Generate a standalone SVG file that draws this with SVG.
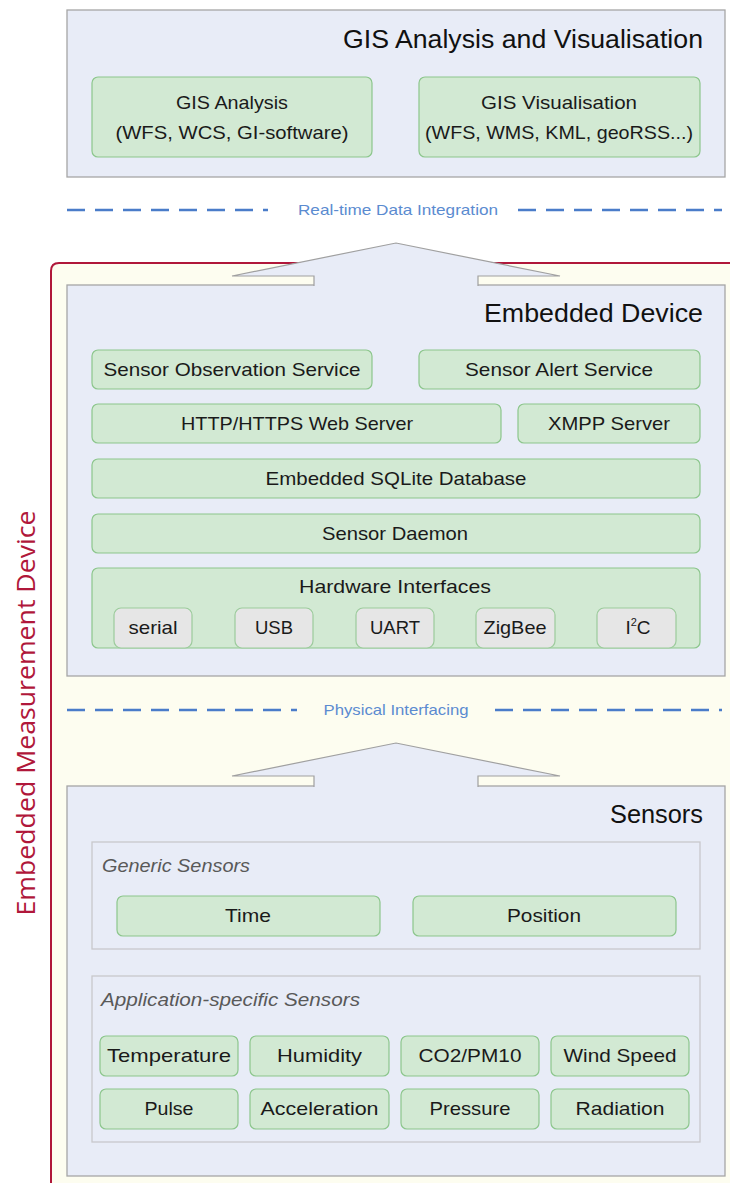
<svg xmlns="http://www.w3.org/2000/svg" width="730" height="1183" viewBox="0 0 730 1183">
<style>
.layer{fill:#e8ecf7;stroke:#a6a6a6;stroke-width:1.3}
.node{fill:#d2e9d3;stroke:#8cc68c;stroke-width:1.2}
.port{fill:#e6e6e6;stroke:#9ccb9c;stroke-width:1.2}
.panel{fill:#e8ecf7;stroke:#c8c8cc;stroke-width:1.3}
.t{font-family:"Liberation Sans",Arial,sans-serif;fill:#1a1a1a;font-size:19px;text-anchor:middle}
.title{font-family:"Liberation Sans",Arial,sans-serif;fill:#111;font-size:26px;text-anchor:end}
.it{font-family:"Liberation Sans",Arial,sans-serif;fill:#595959;font-size:19px;font-style:italic}
.lbl{font-family:"Liberation Sans",Arial,sans-serif;fill:#5b8bd0;font-size:15px;text-anchor:middle}
.dash{stroke:#4a7cc9;stroke-width:2.5;stroke-dasharray:18 10;fill:none}
.arrow{fill:#e8ecf7;stroke:#a0a0a0;stroke-width:1.2}
</style>

<!-- Embedded Measurement Device frame -->
<g id="frame">
<path d="M51,1195 V271 Q51,263 59,263 H740 V1195 Z" fill="#fdfdf0" stroke="#b0173a" stroke-width="2"/>
<text transform="translate(35,713) rotate(-90)" font-family="'Open Sans','Liberation Sans',sans-serif" font-size="25" fill="#b0173a" text-anchor="middle" textLength="405" lengthAdjust="spacingAndGlyphs">Embedded Measurement Device</text>
</g>

<!-- GIS layer -->
<g id="gis">
<rect class="layer" x="67" y="10" width="658" height="167"/>
<text class="title" x="703" y="48" textLength="360" lengthAdjust="spacingAndGlyphs">GIS Analysis and Visualisation</text>
</g>
<g id="gis-analysis">
<rect class="node" x="92" y="77" width="280" height="80" rx="6"/>
<text class="t" x="232" y="109" textLength="112" lengthAdjust="spacingAndGlyphs">GIS Analysis</text>
<text class="t" x="232" y="139" textLength="233" lengthAdjust="spacingAndGlyphs">(WFS, WCS, GI-software)</text>
</g>
<g id="gis-visualisation">
<rect class="node" x="419" y="77" width="281" height="80" rx="6"/>
<text class="t" x="559" y="109" textLength="156" lengthAdjust="spacingAndGlyphs">GIS Visualisation</text>
<text class="t" x="559" y="139" textLength="268" lengthAdjust="spacingAndGlyphs">(WFS, WMS, KML, geoRSS...)</text>
</g>

<!-- Embedded device layer -->
<g id="embedded-device">
<rect class="layer" x="67" y="285" width="658" height="391"/>
<text class="title" x="703" y="322" textLength="219" lengthAdjust="spacingAndGlyphs">Embedded Device</text>
</g>
<g id="sos">
<rect class="node" x="92" y="350" width="280" height="39" rx="6"/>
<text class="t" x="232" y="376" textLength="257" lengthAdjust="spacingAndGlyphs">Sensor Observation Service</text>
</g>
<g id="sas">
<rect class="node" x="419" y="350" width="281" height="39" rx="6"/>
<text class="t" x="559" y="376" textLength="188" lengthAdjust="spacingAndGlyphs">Sensor Alert Service</text>
</g>
<g id="http">
<rect class="node" x="92" y="404" width="409" height="39" rx="6"/>
<text class="t" x="297" y="430" textLength="232" lengthAdjust="spacingAndGlyphs">HTTP/HTTPS Web Server</text>
</g>
<g id="xmpp">
<rect class="node" x="518" y="404" width="182" height="39" rx="6"/>
<text class="t" x="609" y="430" textLength="122" lengthAdjust="spacingAndGlyphs">XMPP Server</text>
</g>
<g id="sqlite">
<rect class="node" x="92" y="459" width="608" height="39" rx="6"/>
<text class="t" x="396" y="485" textLength="261" lengthAdjust="spacingAndGlyphs">Embedded SQLite Database</text>
</g>
<g id="daemon">
<rect class="node" x="92" y="514" width="608" height="39" rx="6"/>
<text class="t" x="395" y="540" textLength="146" lengthAdjust="spacingAndGlyphs">Sensor Daemon</text>
</g>
<g id="hardware">
<rect class="node" x="92" y="568" width="608" height="80" rx="6"/>
<text class="t" x="395" y="593" textLength="192" lengthAdjust="spacingAndGlyphs">Hardware Interfaces</text>
</g>
<g id="serial">
<rect class="port" x="114" y="608" width="78" height="40" rx="7"/>
<text class="t" x="153" y="634" textLength="49" lengthAdjust="spacingAndGlyphs">serial</text>
</g>
<g id="usb">
<rect class="port" x="235" y="608" width="78" height="40" rx="7"/>
<text class="t" x="274" y="634" textLength="38" lengthAdjust="spacingAndGlyphs">USB</text>
</g>
<g id="uart">
<rect class="port" x="356" y="608" width="78" height="40" rx="7"/>
<text class="t" x="395" y="634" textLength="50" lengthAdjust="spacingAndGlyphs">UART</text>
</g>
<g id="zigbee">
<rect class="port" x="476" y="608" width="79" height="40" rx="7"/>
<text class="t" x="515" y="634" textLength="63" lengthAdjust="spacingAndGlyphs">ZigBee</text>
</g>
<g id="i2c">
<rect class="port" x="597" y="608" width="79" height="40" rx="7"/>
<text class="t" x="638" y="634">I<tspan dy="-8" font-size="11">2</tspan><tspan dy="8">C</tspan></text>
</g>

<!-- Sensors layer -->
<g id="sensors">
<rect class="layer" x="67" y="786" width="658" height="390"/>
<text class="title" x="703" y="823" textLength="93" lengthAdjust="spacingAndGlyphs">Sensors</text>
</g>
<g id="generic-sensors">
<rect class="panel" x="92" y="842" width="608" height="107"/>
<text class="it" x="102" y="872" textLength="148" lengthAdjust="spacingAndGlyphs">Generic Sensors</text>
</g>
<g id="time">
<rect class="node" x="117" y="896" width="263" height="40" rx="6"/>
<text class="t" x="248" y="922" textLength="46" lengthAdjust="spacingAndGlyphs">Time</text>
</g>
<g id="position">
<rect class="node" x="413" y="896" width="263" height="40" rx="6"/>
<text class="t" x="544" y="922" textLength="74" lengthAdjust="spacingAndGlyphs">Position</text>
</g>
<g id="app-sensors">
<rect class="panel" x="92" y="976" width="608" height="166"/>
<text class="it" x="101" y="1006" textLength="259" lengthAdjust="spacingAndGlyphs">Application-specific Sensors</text>
</g>
<g id="temperature">
<rect class="node" x="100" y="1036" width="138" height="40" rx="6"/>
<text class="t" x="169" y="1062" textLength="124" lengthAdjust="spacingAndGlyphs">Temperature</text>
</g>
<g id="humidity">
<rect class="node" x="250" y="1036" width="139" height="40" rx="6"/>
<text class="t" x="319.5" y="1062" textLength="85" lengthAdjust="spacingAndGlyphs">Humidity</text>
</g>
<g id="co2">
<rect class="node" x="401" y="1036" width="138" height="40" rx="6"/>
<text class="t" x="470" y="1062" textLength="103" lengthAdjust="spacingAndGlyphs">CO2/PM10</text>
</g>
<g id="wind">
<rect class="node" x="551" y="1036" width="138" height="40" rx="6"/>
<text class="t" x="620" y="1062" textLength="113" lengthAdjust="spacingAndGlyphs">Wind Speed</text>
</g>
<g id="pulse">
<rect class="node" x="100" y="1089" width="138" height="40" rx="6"/>
<text class="t" x="169" y="1115" textLength="49" lengthAdjust="spacingAndGlyphs">Pulse</text>
</g>
<g id="acceleration">
<rect class="node" x="250" y="1089" width="139" height="40" rx="6"/>
<text class="t" x="319.5" y="1115" textLength="118" lengthAdjust="spacingAndGlyphs">Acceleration</text>
</g>
<g id="pressure">
<rect class="node" x="401" y="1089" width="138" height="40" rx="6"/>
<text class="t" x="470" y="1115" textLength="81" lengthAdjust="spacingAndGlyphs">Pressure</text>
</g>
<g id="radiation">
<rect class="node" x="551" y="1089" width="138" height="40" rx="6"/>
<text class="t" x="620" y="1115" textLength="89" lengthAdjust="spacingAndGlyphs">Radiation</text>
</g>

<!-- Connectors -->
<g id="connectors">
<line class="dash" x1="67" y1="210" x2="268" y2="210"/>
<line class="dash" x1="518" y1="210" x2="722" y2="210"/>
<text class="lbl" x="398" y="215" textLength="200" lengthAdjust="spacingAndGlyphs">Real-time Data Integration</text>
<rect x="314.6" y="275" width="163" height="11" fill="#e8ecf7"/>
<polyline class="arrow" points="314,286 314,276 232,276 396,243 560,276 478,276 478,286"/>
<line class="dash" x1="67" y1="710" x2="297" y2="710"/>
<line class="dash" x1="495" y1="710" x2="722" y2="710"/>
<text class="lbl" x="396" y="715" textLength="145" lengthAdjust="spacingAndGlyphs">Physical Interfacing</text>
<rect x="314.6" y="775" width="163" height="12" fill="#e8ecf7"/>
<polyline class="arrow" points="314,787 314,776 232,776 396,743 560,776 478,776 478,787"/>
</g>
</svg>
